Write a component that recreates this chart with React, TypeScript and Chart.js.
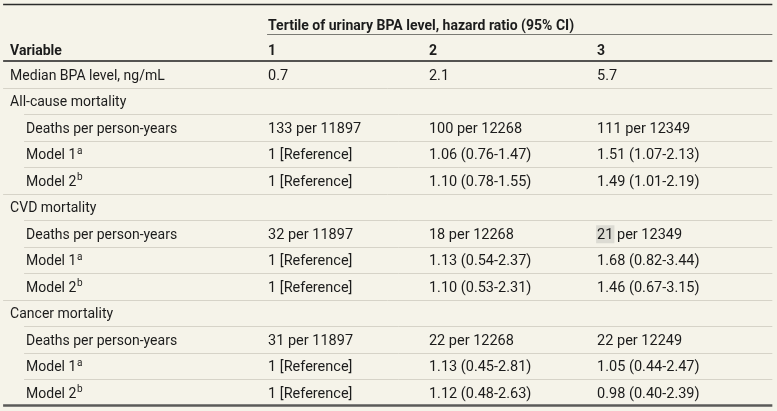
import React, { useEffect, useRef } from 'react';
import { Chart, registerables } from 'chart.js';

Chart.register(...registerables);

// ---------- data ----------
const spanHeader = 'Tertile of urinary BPA level, hazard ratio (95% CI)';
const columnHeaders = ['Variable', '1', '2', '3'];

const variables = [
  'Median BPA level, ng/mL',
  'All-cause mortality',
  'Deaths per person-years',
  'Model 1',
  'Model 2',
  'CVD mortality',
  'Deaths per person-years',
  'Model 1',
  'Model 2',
  'Cancer mortality',
  'Deaths per person-years',
  'Model 1',
  'Model 2',
];
const superscripts = ['', '', '', 'a', 'b', '', '', 'a', 'b', '', '', 'a', 'b'];
const indented = [false, false, true, true, true, false, true, true, true, false, true, true, true];

const tertile1 = [
  '0.7', '', '133 per 11897', '1 [Reference]', '1 [Reference]',
  '', '32 per 11897', '1 [Reference]', '1 [Reference]',
  '', '31 per 11897', '1 [Reference]', '1 [Reference]',
];
const tertile2 = [
  '2.1', '', '100 per 12268', '1.06 (0.76-1.47)', '1.10 (0.78-1.55)',
  '', '18 per 12268', '1.13 (0.54-2.37)', '1.10 (0.53-2.31)',
  '', '22 per 12268', '1.13 (0.45-2.81)', '1.12 (0.48-2.63)',
];
const tertile3 = [
  '5.7', '', '111 per 12349', '1.51 (1.07-2.13)', '1.49 (1.01-2.19)',
  '', '21 per 12349', '1.68 (0.82-3.44)', '1.46 (0.67-3.15)',
  '', '22 per 12249', '1.05 (0.44-2.47)', '0.98 (0.40-2.39)',
];
// rows after which a full-width rule is drawn
const groupEnds = [0, 4, 8];
// highlighted fragment (row, column, characters)
const highlightCell = { row: 6, col: 3, text: '21' };

// ---------- layout / style ----------
const COL_X = [1.3, 34.5, 55.2, 76.85]; // percent of width
const INDENT_X = 3.35;
const RULE_LEFT = 0.4;
const RULE_RIGHT = 99.4;
const RULE_INDENT = 3.1;
const FONT = 'Roboto, "Noto Sans", sans-serif';
const TEXT = '#1c1c1c';
const BG = '#f5f3e9';

const tablePlugin = {
  id: 'tablePlugin',
  beforeDraw(chart: any) {
    const { ctx, width, height } = chart;
    ctx.save();
    ctx.fillStyle = BG;
    ctx.fillRect(0, 0, width, height);
    ctx.restore();
  },
  afterDatasetsDraw(chart: any) {
    const { ctx, chartArea } = chart;
    const xs = chart.scales.x;
    const ys = chart.scales.y;
    const X = (v: number) => xs.getPixelForValue(v);
    const top = chartArea.top;

    const hline = (x0: number, x1: number, y: number, w: number, color: string) => {
      ctx.save();
      ctx.strokeStyle = color;
      ctx.lineWidth = w;
      ctx.beginPath();
      ctx.moveTo(x0, y);
      ctx.lineTo(x1, y);
      ctx.stroke();
      ctx.restore();
    };

    // header rules
    hline(X(RULE_LEFT), X(RULE_RIGHT), top - 56.5, 1.5, '#2b2b2b');
    hline(X(COL_X[1]) - 1, X(RULE_RIGHT), top - 26.5, 1.2, '#7a7a74');
    hline(X(RULE_LEFT), X(RULE_RIGHT), top, 1.6, '#1e1e1e');

    // header text
    ctx.save();
    ctx.fillStyle = TEXT;
    ctx.textBaseline = 'middle';
    ctx.textAlign = 'left';
    ctx.font = `bold 14px ${FONT}`;
    ctx.fillText(spanHeader, X(COL_X[1]), top - 35);
    columnHeaders.forEach((h, c) => ctx.fillText(h, X(COL_X[c]), top - 9.5));
    ctx.restore();

    // row rules
    for (let i = 0; i < variables.length - 1; i++) {
      const y = Math.round(ys.getPixelForValue(i + 0.5)) + 0.5;
      const full = groupEnds.includes(i);
      hline(X(full ? RULE_LEFT : RULE_INDENT), X(RULE_RIGHT), y, 1, '#d6d3c8');
    }
    // bottom rule
    hline(X(RULE_LEFT), X(RULE_RIGHT), ys.getPixelForValue(variables.length - 0.5), 2.5, '#5a5a58');

    // cells
    ctx.save();
    ctx.textBaseline = 'middle';
    ctx.textAlign = 'left';
    chart.data.datasets.forEach((ds: any, d: number) => {
      const meta = chart.getDatasetMeta(d);
      const font = d === 0 ? `14px ${FONT}` : `14.5px ${FONT}`;
      meta.data.forEach((pt: any, i: number) => {
        const txt = ds.texts[i];
        if (!txt) return;
        const px = pt.x;
        const py = pt.y + 2;
        ctx.font = font;
        if (highlightCell.row === i && highlightCell.col === d && txt.startsWith(highlightCell.text)) {
          const w = ctx.measureText(highlightCell.text).width;
          ctx.fillStyle = '#dcdbd3';
          ctx.fillRect(px - 1, py - 10, w + 2, 18);
        }
        ctx.fillStyle = TEXT;
        ctx.fillText(txt, px, py);
        if (d === 0 && superscripts[i]) {
          const w = ctx.measureText(txt).width;
          ctx.font = `10px ${FONT}`;
          ctx.fillText(superscripts[i], px + w + 0.8, py - 4.5);
        }
      });
    });
    ctx.restore();
  },
};

export default function App() {
  const ref = useRef<HTMLCanvasElement | null>(null);

  useEffect(() => {
    if (!ref.current) return;
    const columns = [variables, tertile1, tertile2, tertile3];
    const datasets = columns.map((texts, c) => ({
      label: columnHeaders[c],
      texts,
      data: texts.map((_, i) => ({
        x: c === 0 && indented[i] ? INDENT_X : COL_X[c],
        y: i,
      })),
      pointRadius: 0,
      pointHoverRadius: 0,
      showLine: false,
    }));

    const chart = new Chart(ref.current, {
      type: 'scatter',
      data: { datasets: datasets as any },
      options: {
        animation: false,
        responsive: true,
        maintainAspectRatio: false,
        events: [],
        layout: { padding: { top: 61, bottom: 5.5, left: 0, right: 0 } },
        plugins: { legend: { display: false }, tooltip: { enabled: false } },
        scales: {
          x: { type: 'linear', min: 0, max: 100, display: false },
          y: { type: 'linear', min: -0.5, max: variables.length - 0.5, reverse: true, display: false },
        },
      },
      plugins: [tablePlugin],
    });
    return () => chart.destroy();
  }, []);

  return (
    <div style={{ position: 'fixed', left: 0, top: 0, width: 777, height: 411, background: BG }}>
      <canvas ref={ref} />
    </div>
  );
}
